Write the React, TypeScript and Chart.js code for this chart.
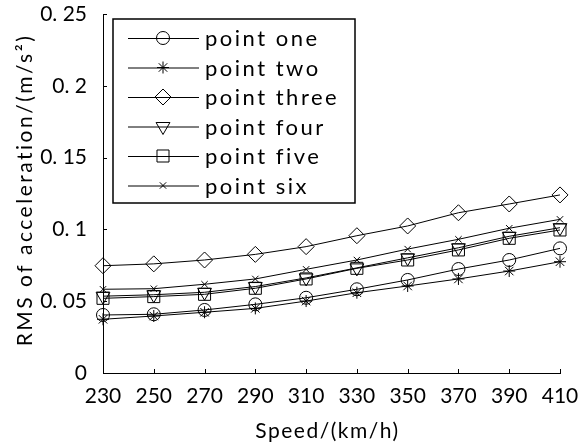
import React, { useEffect, useRef } from 'react';
import { Chart, registerables } from 'chart.js';
import { drawPoint } from 'chart.js/helpers';

Chart.register(...registerables);

const speeds = [230, 250, 270, 290, 310, 330, 350, 370, 390, 410];
const pointOne = [0.0404, 0.0409, 0.0439, 0.0478, 0.0524, 0.0583, 0.0648, 0.0724, 0.0787, 0.0868];
const pointTwo = [0.0374, 0.0397, 0.0423, 0.045, 0.0501, 0.0559, 0.0606, 0.0655, 0.071, 0.0775];
const pointThree = [0.0747, 0.076, 0.0787, 0.0826, 0.088, 0.0956, 0.1024, 0.1116, 0.1177, 0.124];
const pointFour = [0.0535, 0.0545, 0.0562, 0.0602, 0.0662, 0.0732, 0.0802, 0.0872, 0.0952, 0.1012];
const pointFive = [0.052, 0.0532, 0.0548, 0.059, 0.0655, 0.0729, 0.0787, 0.0857, 0.0938, 0.0996];
const pointSix = [0.0583, 0.0587, 0.0618, 0.0655, 0.0722, 0.0787, 0.0863, 0.0931, 0.1008, 0.107];
const seriesNames = ['point one', 'point two', 'point three', 'point four', 'point five', 'point six'];
const yTickValues = [0, 0.05, 0.1, 0.15, 0.2, 0.25];
const yTickLabels = ['0', '0. 05', '0. 1', '0. 15', '0. 2', '0. 25'];
const xTitle = 'Speed/(km/h)';
const yTitle = 'RMS of acceleration/(m/s²)';

const FONT = 'Lato, "Open Sans", sans-serif';

const markers: any[] = [
  { style: 'circle', radius: 6.5, rotation: 0 },
  { style: 'star', radius: 6, rotation: 0 },
  { style: 'rectRot', radius: 8, rotation: 0 },
  { style: 'triangle', radius: 8, rotation: 180 },
  { style: 'rect', radius: 8.5, rotation: 0 },
  { style: 'crossRot', radius: 4.5, rotation: 0 },
];

const innerTicks = {
  id: 'innerTicks',
  afterDatasetsDraw(chart: any) {
    const { ctx, chartArea, scales } = chart;
    ctx.save();
    ctx.strokeStyle = '#000';
    ctx.lineWidth = 1;
    ctx.beginPath();
    speeds.forEach((s, i) => {
      const x = Math.round(scales.x.getPixelForValue(i)) + 0.5;
      ctx.moveTo(x, chartArea.bottom);
      ctx.lineTo(x, chartArea.bottom - 4);
    });
    yTickValues.forEach((v) => {
      const y = Math.round(scales.y.getPixelForValue(v)) + 0.5;
      ctx.moveTo(chartArea.left, y);
      ctx.lineTo(chartArea.left + 4, y);
    });
    ctx.stroke();
    ctx.restore();
  },
};

const axisTitles = {
  id: 'axisTitles',
  afterDraw(chart: any) {
    const { ctx, chartArea } = chart;
    ctx.save();
    ctx.fillStyle = '#000';
    ctx.font = '21px ' + FONT;
    ctx.textAlign = 'center';
    ctx.textBaseline = 'middle';
    (ctx as any).letterSpacing = '1.5px';
    ctx.fillText(xTitle, (chartArea.left + chartArea.right) / 2 - 4, 431);
    (ctx as any).letterSpacing = '2.5px';
    ctx.translate(25, 190);
    ctx.rotate(-Math.PI / 2);
    ctx.fillText(yTitle, 0, 0);
    ctx.restore();
  },
};

const boxLegend = {
  id: 'boxLegend',
  afterDraw(chart: any) {
    const { ctx, chartArea } = chart;
    const left = chartArea.left + 10;
    const top = chartArea.top + 5;
    const w = 242;
    const h = 184;
    ctx.save();
    ctx.fillStyle = '#fff';
    ctx.fillRect(left, top, w, h);
    ctx.strokeStyle = '#000';
    ctx.lineWidth = 1.5;
    ctx.strokeRect(left, top, w, h);
    ctx.font = '22px ' + FONT;
    (ctx as any).letterSpacing = '2.5px';
    ctx.textBaseline = 'middle';
    seriesNames.forEach((name, i) => {
      const y = top + 19 + i * 29.5;
      ctx.lineWidth = 1;
      ctx.strokeStyle = '#000';
      ctx.beginPath();
      ctx.moveTo(left + 15, y + 0.5);
      ctx.lineTo(left + 86, y + 0.5);
      ctx.stroke();
      const m = markers[i];
      ctx.fillStyle = 'rgba(255,255,255,0)';
      drawPoint(ctx, { pointStyle: m.style, radius: m.radius, rotation: m.rotation, borderWidth: 1 } as any, left + 50, y);
      ctx.fillStyle = '#000';
      ctx.fillText(name, left + 92, y + 1);
    });
    ctx.restore();
  },
};

export default function App() {
  const ref = useRef<HTMLCanvasElement>(null);
  useEffect(() => {
    const all = [pointOne, pointTwo, pointThree, pointFour, pointFive, pointSix];
    const chart = new Chart(ref.current!, {
      type: 'line',
      data: {
        labels: speeds.map(String),
        datasets: all.map((d, i) => ({
          label: seriesNames[i],
          data: d,
          borderColor: '#000',
          borderWidth: 1,
          backgroundColor: 'transparent',
          pointStyle: markers[i].style,
          pointRadius: markers[i].radius,
          pointRotation: markers[i].rotation,
          pointBorderColor: '#000',
          pointBackgroundColor: 'transparent',
          pointBorderWidth: 1,
          tension: 0,
        })),
      },
      options: {
        animation: false,
        responsive: false,
        layout: { padding: { left: 0, right: 20, top: 14, bottom: 0 } },
        plugins: { legend: { display: false }, tooltip: { enabled: false } },
        scales: {
          x: {
            offset: false,
            grid: { display: false },
            border: { display: true, color: '#000', width: 1 },
            ticks: { color: '#000', font: { family: FONT, size: 21 }, padding: 3, maxRotation: 0, autoSkip: false },
            afterFit: (s: any) => { s.height = 72; s.paddingLeft = 0; s.paddingRight = 0; },
          },
          y: {
            min: 0,
            max: 0.25,
            grid: { display: false },
            border: { display: true, color: '#000', width: 1 },
            ticks: {
              stepSize: 0.05,
              color: '#000',
              padding: 8,
              font: { family: FONT, size: 21 },
              callback: (v: any) => {
                const idx = yTickValues.findIndex((t) => Math.abs(t - v) < 1e-6);
                return idx >= 0 ? yTickLabels[idx] : '';
              },
            },
            afterFit: (s: any) => { s.width = 103; s.paddingTop = 0; s.paddingBottom = 0; },
          },
        },
      },
      plugins: [innerTicks, boxLegend, axisTitles],
    });
    return () => chart.destroy();
  }, []);
  return (
    <canvas
      ref={ref}
      width={580}
      height={445}
      style={{ position: 'fixed', left: 0, top: 0, display: 'block', background: '#fff' }}
    />
  );
}
